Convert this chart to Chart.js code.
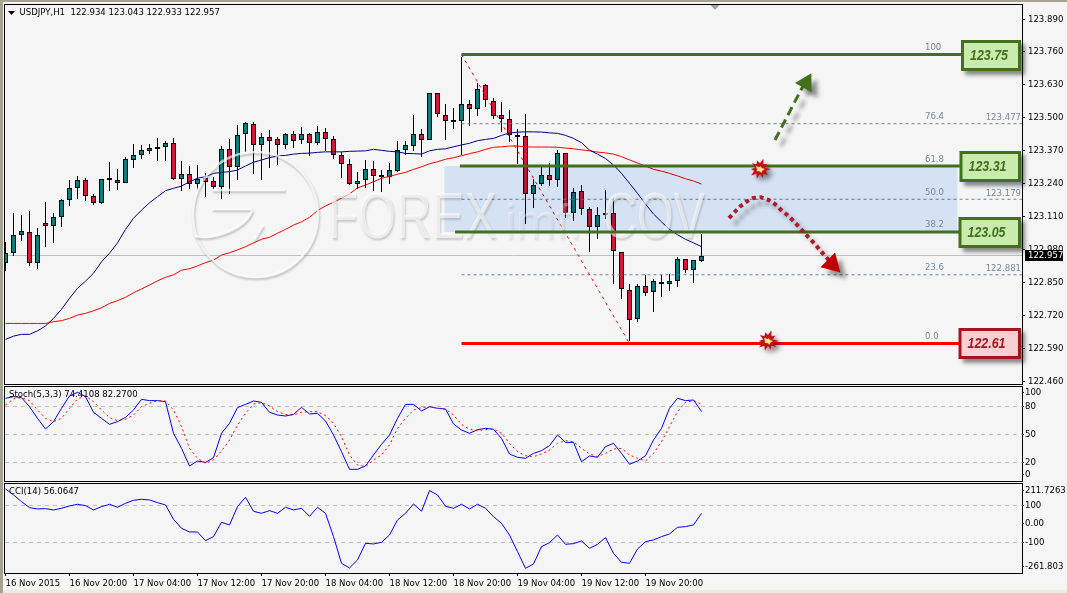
<!DOCTYPE html>
<html>
<head>
<meta charset="utf-8">
<title>USDJPY,H1</title>
<script src="https://cdn.jsdelivr.net/npm/chart.js@4/dist/chart.umd.js"></script>
<style>
  html, body { margin: 0; padding: 0; background: #f5f5f5; }
  #page { position: relative; width: 1067px; height: 593px; overflow: hidden; background: #f5f5f5;
          box-shadow: inset 3px 2px 0 #a5a292, inset 0 -3px 0 #ecebdc; }
  canvas { position: absolute; left: 0; }
  #price { top: 0; }
  #stoch { top: 380px; }
  #cci { top: 475px; }
</style>
</head>
<body>
<div id="page">
  <canvas id="price" width="1067" height="395"></canvas>
  <canvas id="stoch" width="1067" height="110"></canvas>
  <canvas id="cci" width="1067" height="118"></canvas>
</div>
<script>
// hourly candles, 16 Nov 2015 00:00 onwards
const opens = [122.926,122.968,123.039,123.051,122.926,123.084,123.072,123.108,123.175,123.224,
  123.254,123.193,123.163,123.262,123.254,123.244,123.335,123.352,123.370,123.378,
  123.384,123.400,123.260,123.277,123.238,123.262,123.250,123.228,123.376,123.307,
  123.435,123.475,123.392,123.423,123.415,123.392,123.435,123.411,123.435,123.400,
  123.443,123.415,123.352,123.317,123.238,123.254,123.297,123.275,123.268,123.292,
  123.374,123.390,123.435,123.411,123.597,123.510,123.490,123.486,123.553,123.536,
  123.629,123.565,123.510,123.494,123.431,123.427,123.198,123.238,123.273,123.254,
  123.360,123.123,123.210,123.139,123.068,123.116,123.123,122.972,122.820,122.705,
  122.835,122.812,122.851,122.843,122.855,122.942,122.899,122.934];
const closes = [122.968,123.037,123.052,122.926,123.037,123.072,123.108,123.175,123.222,123.254,
  123.193,123.163,123.258,123.254,123.244,123.337,123.352,123.372,123.380,123.384,
  123.400,123.260,123.277,123.238,123.259,123.248,123.228,123.376,123.307,123.431,
  123.479,123.392,123.423,123.410,123.392,123.435,123.407,123.435,123.400,123.443,
  123.415,123.352,123.317,123.238,123.251,123.297,123.272,123.268,123.293,123.372,
  123.392,123.435,123.411,123.597,123.514,123.489,123.488,123.553,123.536,123.613,
  123.569,123.509,123.497,123.431,123.426,123.198,123.234,123.273,123.254,123.360,
  123.123,123.206,123.139,123.068,123.116,123.123,122.974,122.824,122.701,122.835,
  122.808,122.855,122.843,122.855,122.942,122.900,122.938,122.957];
const highs = [123.011,123.123,123.117,123.131,123.064,123.167,123.123,123.179,123.255,123.271,
  123.263,123.198,123.259,123.325,123.298,123.344,123.397,123.392,123.396,123.419,
  123.410,123.421,123.329,123.309,123.314,123.281,123.268,123.389,123.415,123.472,
  123.484,123.484,123.439,123.452,123.426,123.439,123.448,123.464,123.439,123.468,
  123.459,123.427,123.366,123.337,123.288,123.334,123.331,123.294,123.321,123.409,
  123.409,123.511,123.455,123.597,123.597,123.553,123.540,123.741,123.571,123.636,
  123.632,123.577,123.561,123.530,123.455,123.514,123.258,123.307,123.321,123.373,
  123.360,123.222,123.235,123.150,123.147,123.215,123.183,122.972,122.845,122.845,
  122.880,122.863,122.880,122.883,122.951,122.942,122.939,123.043];
const lows = [122.896,122.956,123.015,122.916,122.905,122.992,123.007,123.071,123.153,123.181,
  123.173,123.155,123.161,123.213,123.217,123.244,123.303,123.339,123.359,123.330,
  123.330,123.255,123.213,123.219,123.215,123.188,123.221,123.180,123.201,123.255,
  123.365,123.278,123.255,123.303,123.314,123.378,123.382,123.396,123.351,123.392,
  123.370,123.337,123.264,123.234,123.219,123.222,123.213,123.209,123.239,123.288,
  123.354,123.370,123.347,123.411,123.505,123.413,123.456,123.354,123.468,123.509,
  123.544,123.496,123.444,123.406,123.317,123.082,123.144,123.231,123.232,123.228,
  123.106,123.094,123.117,122.972,123.023,123.100,122.845,122.784,122.621,122.696,
  122.798,122.735,122.794,122.818,122.834,122.889,122.850,122.933];

// moving averages
const maFast = [122.626,122.639,122.646,122.646,122.660,122.679,122.709,122.745,122.788,122.828,
  122.856,122.887,122.932,122.966,123.007,123.060,123.104,123.136,123.165,123.189,
  123.213,123.222,123.231,123.248,123.262,123.268,123.281,123.285,123.288,123.294,
  123.310,123.325,123.334,123.343,123.350,123.352,123.357,123.360,123.361,123.364,
  123.366,123.366,123.366,123.368,123.369,123.370,123.376,123.372,123.368,123.366,
  123.360,123.359,123.357,123.370,123.376,123.378,123.386,123.393,123.400,123.410,
  123.415,123.419,123.431,123.440,123.444,123.445,123.445,123.444,123.441,123.439,
  123.431,123.419,123.402,123.373,123.357,123.340,123.314,123.281,123.242,123.202,
  123.160,123.121,123.090,123.060,123.039,123.021,123.007,122.992];
const maSlow = [122.689,122.689,122.689,122.689,122.689,122.689,122.696,122.700,122.709,122.722,
  122.729,122.739,122.751,122.768,122.779,122.792,122.810,122.825,122.841,122.857,
  122.871,122.881,122.899,122.905,122.916,122.929,122.939,122.959,122.968,122.979,
  122.992,123.007,123.021,123.029,123.045,123.060,123.077,123.090,123.108,123.134,
  123.153,123.167,123.183,123.200,123.224,123.235,123.248,123.262,123.269,123.278,
  123.285,123.297,123.307,123.319,123.327,123.337,123.343,123.351,123.359,123.366,
  123.376,123.384,123.386,123.389,123.389,123.386,123.385,123.385,123.385,123.384,
  123.381,123.378,123.374,123.370,123.365,123.362,123.357,123.347,123.334,123.322,
  123.310,123.297,123.290,123.281,123.271,123.260,123.251,123.239];

// Stoch(5,3,3)
const stochMain = [88.6,90.4,89.3,79.6,67.1,55.7,63.6,77.9,91.1,95,
  90.4,73.6,67.1,60.7,63.6,68.2,76.1,87.5,86.1,86.1,
  85,51.1,35,16.1,21.4,20,25,51.1,61.8,78.6,
  82.1,85.7,84.3,73.6,70.7,69.6,71.4,78.9,71.8,72.5,
  64.3,49.3,31.4,12.5,12.5,16.1,27.9,39.3,49.3,67.1,
  82.1,82.1,75,79.6,77.9,77.1,61.1,54.6,51.1,55,
  56.4,55.4,45.7,28.9,25.4,24.3,29.6,32.5,37.9,49.3,
  41.4,41.4,20.7,26.8,25.4,36.8,40.4,29.6,17.9,21.4,
  27.1,43.9,56.4,77.9,88.6,86.1,86.8,74.41];
const stochSignal = [81.4,87.9,89.3,86.1,76.1,67.1,63.6,67.1,77.9,87.9,
  91.1,85,76.1,67.9,64.6,66.1,70.7,79.6,83.2,86.1,
  85.7,76.1,58.2,35,24.3,18.9,22.5,32.1,43.9,60,
  72.5,82.5,83.9,80.4,74.3,71.4,70.7,73.6,74.3,74.3,
  70,61.8,47.5,27.9,17.1,15.4,22.5,27.9,38.6,56.4,
  67.1,76.1,78.6,79.6,77.9,77.1,70.7,60.7,55.4,53.9,
  55,55.7,51.1,40.4,31.4,27.1,26.1,28.9,33.2,40.4,
  43.2,42.1,35,28.9,26.1,29.6,34.3,35,27.9,24.3,
  21.4,29.6,42.1,58.2,74.3,84.3,86.1,82.27];

// CCI(14)
const cciValues = [188.3,155.9,119.8,87.4,80.2,82,74.8,83.8,96.4,105.4,
  98.2,74.8,92.8,105.4,89.2,110.8,127,132.4,128.8,114.4,
  101.8,24.3,-24.3,-44.1,-44.1,-91,-69.4,8.1,-6.3,92.8,
  143.2,67.6,56.8,71.2,56.8,89.2,74.8,83.8,40.5,89.2,
  56.8,-69.4,-213.5,-238.7,-195.5,-105.4,-109,-100,-60.4,20.7,
  56.8,107.2,67.6,179.3,155.9,94.6,83.8,105.4,80.2,105.4,
  83.8,38.7,2.7,-60.4,-150.4,-240.5,-217.1,-123.4,-101.8,-60.4,
  -110.8,-107.2,-92.8,-132.4,-110.8,-74.8,-159.5,-208.1,-213.5,-136,
  -96.4,-87.4,-69.4,-55,-18.9,-15.3,-6.3,56.06];

// axes
const timeTicks = [0,8,16,24,32,40,48,56,64,72,80];
const timeLabels = ['16 Nov 2015','16 Nov 20:00','17 Nov 04:00','17 Nov 12:00','17 Nov 20:00',
  '18 Nov 04:00','18 Nov 12:00','18 Nov 20:00','19 Nov 04:00','19 Nov 12:00','19 Nov 20:00'];
const priceTicks = [122.46,122.59,122.72,122.85,122.98,123.11,123.24,123.37,123.5,123.63,123.76,123.89];
// the top and bottom labels of the indicator panes sit inset from their true value
const stochTickSpots = [94.3,80,50,20,7.1];
const stochTickLabels = ['100','80','50','20','0'];
const stochLevels = [80,50,20];
const cciTickSpots = [181,100,0,-100,-229.7];
const cciTickLabels = ['211.7263','100','0.00','-100','-261.803'];
const cciLevels = [100,-100];

// fibonacci retracement, anchored on bars 57 and 78
const fiboPercents = ['100','76.4','61.8','50.0','38.2','23.6','0.0'];
const fiboPrices = [123.75,123.477,123.31,123.179,123.05,122.881,122.61];
const fiboDashed = [123.477,123.179,122.881];
const fiboAnchorBars = [57,78];
const fiboRightBar = 127.06;

// hand-drawn analysis on top of the fibo
const zoneBars = [54.84,119];
const zonePrices = [123.05,123.31];
const resistLevels = [123.75,123.31,123.05];
const resistStartBars = [57,56.8,56.2];
const supportLevel = 122.61;
const levelEndBar = 119.5;
const bullArrowBars = [96.19,99.56,100.06];
const bullArrowPrices = [123.413,123.618,123.638];
const bearArrowBars = [90.44,91.1,91.81,92.6,93.48,94.44,95.4,96.23,96.98,97.73,98.48,99.15,99.81,100.48,101.19,101.81,102.48,103.31];
const bearArrowPrices = [123.105,123.127,123.15,123.169,123.184,123.187,123.176,123.159,123.136,123.117,123.094,123.071,123.048,123.025,123.002,122.978,122.955,122.923];
const burstBars = [94.3,95.3];
const burstPrices = [123.298,122.62];
const bidPrice = 122.957;

const xMin = -0.0625, xMax = 127.0625;
const FONT = '"DejaVu Sans Condensed", "Liberation Sans", Arial, sans-serif';
const SIZE = 9.5;
const GREEN = '#43701c';
const DARK_RED = '#a3161f';
Chart.defaults.font.family = FONT;
Chart.defaults.font.size = SIZE;
Chart.defaults.color = '#000';
Chart.defaults.animation = false;

const series = (xs, ys) => xs.map((x, i) => ({ x, y: ys[i] }));
const bySeq = (ys) => ys.map((y, x) => ({ x, y }));

const lineSet = (label, data, color, width, order, extra) => Object.assign({
  type: 'line', label, data, borderColor: color, backgroundColor: color,
  borderWidth: width, pointRadius: 0, tension: 0, order,
}, extra || {});

const level = (label, y, x0, x1, color, width, order, dash) =>
  lineSet(label, [{ x: x0, y }, { x: x1, y }], color, width, order, { borderDash: dash || [] });

// bar bodies in one colour, chosen by direction of the candle
const bodySet = (label, color, keep) => ({
  type: 'bar', label, order: 17, grouped: false, barThickness: 5,
  inflateAmount: 0, borderSkipped: false, borderWidth: 1, borderColor: '#000', backgroundColor: color,
  data: opens.map((o, i) => ({ x: i, y: [o, closes[i]] })).filter((d, i) => keep(i)),
});

// small jagged star used as a point style
const makeBurst = () => {
  const c = document.createElement('canvas');
  c.width = 22; c.height = 22;
  const g = c.getContext('2d');
  const outer = [11,6,10,6,9,5,10,6,11,6,9,5,10,6,9,6,11,6,9,5];
  const inner = [5,3,4,2,4,3,5,2,3,2];
  const poly = (radii, fill) => {
    g.beginPath();
    radii.forEach((r, i) => {
      const a = i / radii.length * Math.PI * 2;
      g.lineTo(11 + Math.cos(a) * r, 11 + Math.sin(a) * r);
    });
    g.closePath();
    g.fillStyle = fill;
    g.fill();
  };
  poly(outer, '#c20d1c');
  poly(inner, '#f4ee78');
  return c;
};

// crisp candle edges: bar tops and bottoms snapped to whole pixels
const snapBars = {
  id: 'snapBars',
  afterDatasetsUpdate(chart) {
    chart.data.datasets.forEach((ds, i) => {
      if (ds.type !== 'bar') return;
      chart.getDatasetMeta(i).data.forEach((bar) => {
        const top = Math.round(Math.min(bar.y, bar.base));
        let bottom = Math.round(Math.max(bar.y, bar.base));
        if (bottom - top < 2 && ds.barThickness > 1) bottom = top + 2;
        bar.y = top;
        bar.base = bottom;
      });
    });
  },
};

// per dataset canvas state: multiply blend for the zone, drop shadow for the arrows
const datasetEffects = {
  id: 'datasetEffects',
  beforeDatasetDraw(chart, args) {
    const ds = chart.data.datasets[args.index];
    const ctx = chart.ctx;
    if (ds.blend) ctx.globalCompositeOperation = ds.blend;
    if (ds.dropShadow) {
      ctx.shadowColor = 'rgba(0,0,0,0.4)';
      ctx.shadowOffsetX = ds.dropShadow;
      ctx.shadowOffsetY = ds.dropShadow;
      ctx.shadowBlur = 4;
    }
  },
  afterDatasetDraw(chart, args) {
    const ds = chart.data.datasets[args.index];
    const ctx = chart.ctx;
    ctx.globalCompositeOperation = 'source-over';
    ctx.shadowColor = 'transparent';
    ctx.shadowOffsetX = 0;
    ctx.shadowOffsetY = 0;
    ctx.shadowBlur = 0;
    if (ds.label === 'zone') drawWatermark(ctx);
  },
};

const drawWatermark = (ctx) => {
  ctx.save();
  ctx.shadowColor = 'rgba(70,70,70,0.4)';
  ctx.shadowOffsetX = 1;
  ctx.shadowOffsetY = 2;
  ctx.shadowBlur = 2;
  ctx.strokeStyle = 'rgba(255,255,255,0.7)';
  ctx.fillStyle = 'rgba(255,255,255,0.6)';
  ctx.lineWidth = 2.5;
  ctx.beginPath();
  ctx.arc(255.5, 214.5, 62.5, 0, Math.PI * 2);
  ctx.stroke();
  ctx.beginPath();
  ctx.moveTo(252, 210);
  ctx.bezierCurveTo(246, 228, 215, 240, 195, 236);
  ctx.moveTo(212, 209);
  ctx.lineTo(252, 209);
  ctx.moveTo(263, 225);
  ctx.lineTo(254, 240);
  ctx.moveTo(212, 190);
  ctx.lineTo(285, 190);
  ctx.stroke();
  ctx.textBaseline = 'alphabetic';
  ctx.textAlign = 'left';
  ctx.font = '64px "Liberation Sans", Arial, sans-serif';
  ctx.fillText('FOREX', 328, 238, 169);
  ctx.fillText('COV', 603, 238, 102);
  ctx.fillStyle = 'rgba(255,255,255,0.35)';
  ctx.font = '48px "Liberation Sans", Arial, sans-serif';
  ctx.fillText('imf.', 505, 238, 95);
  ctx.restore();
};

// outer frame and heading text of one pane
const paneFrame = (title) => ({
  id: 'paneFrame',
  afterDraw(chart) {
    const { ctx, chartArea: a } = chart;
    ctx.save();
    ctx.strokeStyle = '#000';
    ctx.lineWidth = 1;
    ctx.strokeRect(a.left - 0.5, a.top - 0.5, a.right - a.left + 1, a.bottom - a.top + 1);
    ctx.fillStyle = '#000';
    ctx.font = `${SIZE}px ${FONT}`;
    ctx.textBaseline = 'middle';
    ctx.fillText(title, title.startsWith('USDJPY') ? 19.5 : 9, a.top + 8);
    ctx.restore();
  },
});

const priceOverlay = {
  id: 'priceOverlay',
  afterDraw(chart) {
    const { ctx } = chart;
    const y = chart.scales.y;
    ctx.save();

    // fibo percentages and prices
    ctx.font = `${SIZE}px ${FONT}`;
    ctx.fillStyle = '#778899';
    ctx.textBaseline = 'middle';
    fiboPercents.forEach((pct, i) => {
      const py = y.getPixelForValue(fiboPrices[i]);
      ctx.textAlign = 'left';
      ctx.fillText(pct, 925, py - 7);
      if (fiboDashed.includes(fiboPrices[i])) {
        ctx.textAlign = 'right';
        ctx.fillText(fiboPrices[i].toFixed(3), 1021, py - 6);
      }
    });

    // price boxes at the right of the levels
    const boxes = [
      { value: 123.75, left: 961, edge: GREEN, fill: '#c9ecae' },
      { value: 123.31, left: 959.5, edge: GREEN, fill: '#c9ecae' },
      { value: 123.05, left: 958.5, edge: GREEN, fill: '#c9ecae' },
      { value: 122.61, left: 958.5, edge: DARK_RED, fill: '#f8cfd0' },
    ];
    boxes.forEach((b) => {
      const cy = Math.round(y.getPixelForValue(b.value));
      const w = 1021 - b.left - 3;
      ctx.save();
      ctx.shadowColor = 'rgba(0,0,0,0.45)';
      ctx.shadowOffsetX = 4;
      ctx.shadowOffsetY = 4;
      ctx.shadowBlur = 4;
      ctx.fillStyle = b.edge;
      ctx.fillRect(b.left, cy - 15, w + 3, 31);
      ctx.restore();
      ctx.fillStyle = b.fill;
      ctx.fillRect(b.left + 3, cy - 12, w - 3, 25);
      ctx.fillStyle = b.edge;
      ctx.font = 'italic bold 15.5px "Liberation Sans", Arial, sans-serif';
      ctx.textAlign = 'center';
      ctx.textBaseline = 'middle';
      ctx.fillText(b.value.toFixed(2), b.left + 28, cy + 1, 38);
    });

    // bid tag on the axis
    const bidY = Math.round(y.getPixelForValue(bidPrice));
    ctx.fillStyle = '#000';
    ctx.fillRect(1025, bidY - 6, 38, 11);
    ctx.fillStyle = '#fff';
    ctx.font = `${SIZE}px ${FONT}`;
    ctx.textAlign = 'left';
    ctx.fillText(bidPrice.toFixed(3), 1028, bidY);

    // symbol marker in the heading and chart-shift marker on the top edge
    ctx.fillStyle = '#000';
    ctx.beginPath();
    ctx.moveTo(8, 11);
    ctx.lineTo(15, 11);
    ctx.lineTo(11.5, 15);
    ctx.fill();
    ctx.fillStyle = '#a0a0a0';
    ctx.beginPath();
    ctx.moveTo(710.5, 5);
    ctx.lineTo(719.5, 5);
    ctx.lineTo(715, 10);
    ctx.fill();
    ctx.restore();
  },
};

const xAxisHidden = { type: 'linear', display: false, min: xMin, max: xMax, offset: false, grid: { offset: false } };

const yAxis = (min, max, spots, labelFor, tickLength, padding, keepGrid, fitWidth) => ({
  position: 'right', min, max,
  afterBuildTicks: (s) => { s.ticks = spots.map((value) => ({ value })); },
  // fixed width, and no extra room above or below for the end labels
  afterFit: (s) => { s.width = fitWidth; s.paddingTop = 0; s.paddingBottom = 0; },
  border: { display: false, dash: [4, 4] },
  grid: {
    drawTicks: true, tickLength,
    drawOnChartArea: keepGrid.length > 0,
    color: (c) => (c.tick && keepGrid.includes(c.tick.value) ? '#c0c0c0' : 'transparent'),
    tickColor: '#000',
  },
  ticks: { padding, autoSkip: false, font: { size: SIZE }, color: '#000', callback: labelFor },
});

const baseOptions = (padding, scales) => ({
  responsive: false,
  animation: false,
  events: [],
  layout: { padding, autoPadding: false },
  plugins: { legend: { display: false }, tooltip: { enabled: false } },
  scales,
});

new Chart(document.getElementById('price'), {
  type: 'bar',
  data: {
    datasets: [
      level('bid', bidPrice, xMin, xMax, '#c0c0c0', 1, 20),
      {
        type: 'bar', label: 'wicks', order: 18, grouped: false, barThickness: 1, inflateAmount: 0,
        borderWidth: 0, backgroundColor: '#000',
        data: lows.map((l, i) => ({ x: i, y: [l, highs[i]] })),
      },
      bodySet('bull', '#008080', (i) => closes[i] >= opens[i]),
      bodySet('bear', '#dc143c', (i) => closes[i] < opens[i]),
      lineSet('fast average', bySeq(maFast), '#000080', 1, 15),
      lineSet('slow average', bySeq(maSlow), '#ff0000', 1, 15),
      ...fiboDashed.map((p) => level('fibo', p, fiboAnchorBars[0], fiboRightBar, '#708090', 1, 14, [3, 3])),
      lineSet('fibo trend', series(fiboAnchorBars, [123.75, 122.61]), '#ff0000', 1, 13, { borderDash: [3, 4] }),
      {
        type: 'bar', label: 'zone', order: 12, grouped: false, barThickness: 513, inflateAmount: 0,
        borderWidth: 0, backgroundColor: '#d5e2f3', blend: 'multiply',
        data: [{ x: (zoneBars[0] + zoneBars[1]) / 2, y: zonePrices }],
      },
      ...resistLevels.map((p, i) => level('resistance', p, resistStartBars[i], levelEndBar, GREEN, 3, 10)),
      level('support', supportLevel, fiboAnchorBars[0], levelEndBar, '#ff0000', 3, 10),
      lineSet('bull arrow', series(bullArrowBars, bullArrowPrices), GREEN, 3, 9, {
        borderDash: [9, 5], dropShadow: 6,
        pointStyle: 'triangle', pointRotation: 29,
        pointRadius: (c) => (c.dataIndex === bullArrowBars.length - 1 ? 11 : 0),
        pointBorderWidth: 0,
      }),
      lineSet('bear arrow', series(bearArrowBars, bearArrowPrices), '#ae1a30', 4, 9, {
        borderDash: [4, 3.6], dropShadow: 6,
        pointStyle: 'triangle', pointRotation: 135, pointBackgroundColor: '#c00000',
        pointRadius: (c) => (c.dataIndex === bearArrowBars.length - 1 ? 12 : 0),
        pointBorderWidth: 0,
      }),
      lineSet('breaks', series(burstBars, burstPrices), 'transparent', 0, 8, {
        showLine: false, pointStyle: makeBurst(), pointRadius: 11, dropShadow: 4,
      }),
    ],
  },
  options: baseOptions({ left: 5, top: 5, bottom: 11 }, {
    x: xAxisHidden,
    y: yAxis(122.4501, 123.9454, priceTicks, (v) => v.toFixed(3), 3, 3, [], 45),
  }),
  plugins: [snapBars, datasetEffects, paneFrame('USDJPY,H1  122.934 123.043 122.933 122.957'), priceOverlay],
});

new Chart(document.getElementById('stoch'), {
  type: 'line',
  data: {
    datasets: [
      lineSet('main', bySeq(stochMain), '#0000ff', 1, 2),
      lineSet('signal', bySeq(stochSignal), '#ff0000', 1, 1, { borderDash: [2, 3] }),
    ],
  },
  options: baseOptions({ left: 5, top: 7, bottom: 9 }, {
    x: xAxisHidden,
    y: yAxis(0, 100.7, stochTickSpots, (v, i) => stochTickLabels[i], 2, 1, stochLevels, 45),
  }),
  plugins: [paneFrame('Stoch(5,3,3) 74.4108 82.2700')],
});

new Chart(document.getElementById('cci'), {
  type: 'line',
  data: { datasets: [lineSet('cci', bySeq(cciValues), '#0000ff', 1, 1)] },
  options: baseOptions({ left: 5, top: 9 }, {
    x: {
      type: 'linear', min: xMin, max: xMax, offset: false,
      afterBuildTicks: (s) => { s.ticks = timeTicks.map((value) => ({ value })); },
      afterFit: (s) => { s.height = 20; },
      border: { display: false },
      grid: { drawOnChartArea: false, drawTicks: true, tickLength: 3, tickColor: '#000' },
      ticks: {
        autoSkip: false, maxRotation: 0, align: 'start', padding: 2, font: { size: SIZE }, color: '#000',
        callback: (v, i) => timeLabels[i],
      },
    },
    y: yAxis(-265.9, 215.1, cciTickSpots, (v, i) => cciTickLabels[i], 2, 1, cciLevels, 45),
  }),
  plugins: [paneFrame('CCI(14) 56.0647')],
});
</script>
</body>
</html>
